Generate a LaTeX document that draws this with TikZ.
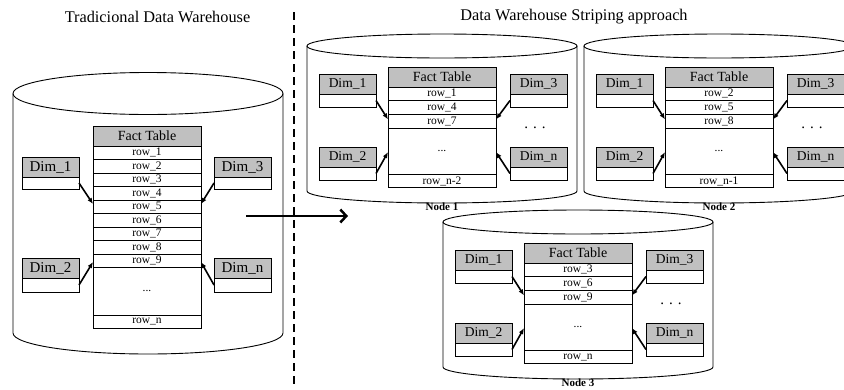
\documentclass[tikz,border=0pt]{standalone}
\usepackage{fontspec}
\setmainfont{Liberation Serif}
\usetikzlibrary{arrows.meta}
\definecolor{hdrgray}{RGB}{192,192,192}
\tikzset{
  x=1pt, y=1pt,
  cyl/.style={draw=black, line width=0.9pt},
  cell/.style={draw=black, line width=1pt, inner sep=0pt, outer sep=0pt, fill=white},
  facthead/.style={cell, fill=hdrgray, minimum width=108pt, minimum height=20pt,
    font=\fontsize{14}{16}\selectfont},
  factrow/.style={cell, minimum width=108pt, minimum height=#1,
    font=\fontsize{11.5}{13}\selectfont},
  factrow/.default=13.7pt,
  dimhead/.style={cell, fill=hdrgray, minimum width=57pt, minimum height=20pt,
    font=\fontsize{13.5}{16}\selectfont},
  dimbody/.style={cell, minimum width=57pt, minimum height=13pt},
  link/.style={-{Latex[length=6pt,width=5pt]}, line width=1.6pt},
  move/.style={-{Straight Barb[length=6pt,width=13pt]}, line width=2.5pt},
  divider/.style={line width=2.8pt, dash pattern=on 8pt off 5pt},
  title/.style={font=\fontsize{16.3}{19}\selectfont, inner sep=0pt},
  moredims/.style={font=\fontsize{15}{18}\selectfont, inner sep=0pt},
  nodelabel/.style={font=\fontsize{11}{13}\selectfont\bfseries, inner sep=0pt}
}
% One site of the striped warehouse: cylinder, fact table slice and dimensions
% #1 name prefix, #2 centre x, #3 top ellipse centre y, #4-#6 rows, #7 last row, #8 caption
\newcommand\stripenode[8]{%
\begin{scope}[shift={(#2,-#3)}]
  \draw[cyl] (-135,0) -- (-135,-145)
    arc[start angle=180, end angle=360, x radius=135, y radius=12] -- (135,0);
  \draw[cyl] (0,0) ellipse[x radius=135, y radius=12];
  \node[facthead, anchor=north] (#1h) at (0,-21) {Fact Table};
  \node[factrow, anchor=north] (#1ra) at (#1h.south) {#4};
  \node[factrow, anchor=north] (#1rb) at (#1ra.south) {#5};
  \node[factrow, anchor=north] (#1rc) at (#1rb.south) {#6};
  \node[factrow=46.5pt, anchor=north] (#1dots) at (#1rc.south) {...};
  \node[factrow=13pt, anchor=north] (#1last) at (#1dots.south) {#7};
  \node[dimhead, anchor=north west] (#1d1h) at (-123,-28) {Dim\_1};
  \node[dimbody, anchor=north] (#1d1b) at (#1d1h.south) {};
  \node[dimhead, anchor=north west] (#1d2h) at (-123,-101) {Dim\_2};
  \node[dimbody, anchor=north] (#1d2b) at (#1d2h.south) {};
  \node[dimhead, anchor=north west] (#1d3h) at (68,-28) {Dim\_3};
  \node[dimbody, anchor=north] (#1d3b) at (#1d3h.south) {};
  \node[dimhead, anchor=north west] (#1dnh) at (68,-101) {Dim\_n};
  \node[dimbody, anchor=north] (#1dnb) at (#1dnh.south) {};
  \node[moredims] (#1more) at (93,-82) {. . .};
  \node[nodelabel] (#1lbl) at (0,-161) {#8};
  \draw[link] (#1d1b.east) -- ([yshift=-5pt]#1rc.north west);
  \draw[link] (#1d3b.west) -- ([yshift=-5pt]#1rc.north east);
  \draw[link] (#1d2b.east) -- ([yshift=-24pt]#1dots.north west);
  \draw[link] (#1dnb.west) -- ([yshift=-24pt]#1dots.north east);
\end{scope}}

\begin{document}
\begin{tikzpicture}
\useasboundingbox (0,0) rectangle (844,-389);
\clip (0,0) rectangle (844,-389);

% headings and separator
\node[title] (ttrad) at (157.5,-17) {Tradicional Data Warehouse};
\node[title] (tstripe) at (574,-17) {Data Warehouse Striping approach};
\coordinate (divtop) at (294,-12);
\coordinate (divbot) at (294,-387);
\draw[divider] (divtop) -- (divbot);

% traditional warehouse
\draw[cyl] (13,-93.5) -- (13,-333)
  arc[start angle=180, end angle=360, x radius=135, y radius=21] -- (283,-93.5);
\draw[cyl] (148,-93.5) ellipse[x radius=135, y radius=21];
\node[facthead, anchor=north west] (lr0) at (93,-126) {Fact Table};
\foreach \i [count=\p from 0] in {1,...,9} {
  \node[factrow=13.5pt, anchor=north] (lr\i) at (lr\p.south) {row\_\i};
}
\node[factrow=47.5pt, anchor=north] (ldots) at (lr9.south) {...};
\node[factrow=13pt, anchor=north] (lrn) at (ldots.south) {row\_n};
\node[dimhead, anchor=north west, font=\fontsize{15}{18}\selectfont] (ld1h) at (22,-157) {Dim\_1};
\node[dimbody, anchor=north, minimum height=12pt] (ld1b) at (ld1h.south) {};
\node[dimhead, anchor=north west, font=\fontsize{15}{18}\selectfont] (ld2h) at (22,-258) {Dim\_2};
\node[dimbody, anchor=north, minimum height=14pt] (ld2b) at (ld2h.south) {};
\node[dimhead, anchor=north west, font=\fontsize{15}{18}\selectfont] (ld3h) at (214,-157) {Dim\_3};
\node[dimbody, anchor=north, minimum height=12pt] (ld3b) at (ld3h.south) {};
\node[dimhead, anchor=north west, font=\fontsize{15}{18}\selectfont] (ldnh) at (214,-258) {Dim\_n};
\node[dimbody, anchor=north, minimum height=14pt] (ldnb) at (ldnh.south) {};
\draw[link] (ld1b.east) -- ([yshift=-4pt]lr5.north west);
\draw[link] (ld3b.west) -- ([yshift=-4pt]lr5.north east);
\draw[link] (ld2b.east) -- ([yshift=-8pt]lr9.north west);
\draw[link] (ldnb.west) -- ([yshift=-8pt]lr9.north east);

% redistribution arrow
\coordinate (mvfrom) at (246,-216);
\coordinate (mvto) at (348,-216);
\draw[move] (mvfrom) -- (mvto);

% striped sites
\stripenode{na}{442}{46}{row\_1}{row\_4}{row\_7}{row\_n-2}{Node 1}
\stripenode{nb}{719}{46}{row\_2}{row\_5}{row\_8}{row\_n-1}{Node 2}
\stripenode{nc}{578}{222}{row\_3}{row\_6}{row\_9}{row\_n}{Node 3}
\end{tikzpicture}
\end{document}
